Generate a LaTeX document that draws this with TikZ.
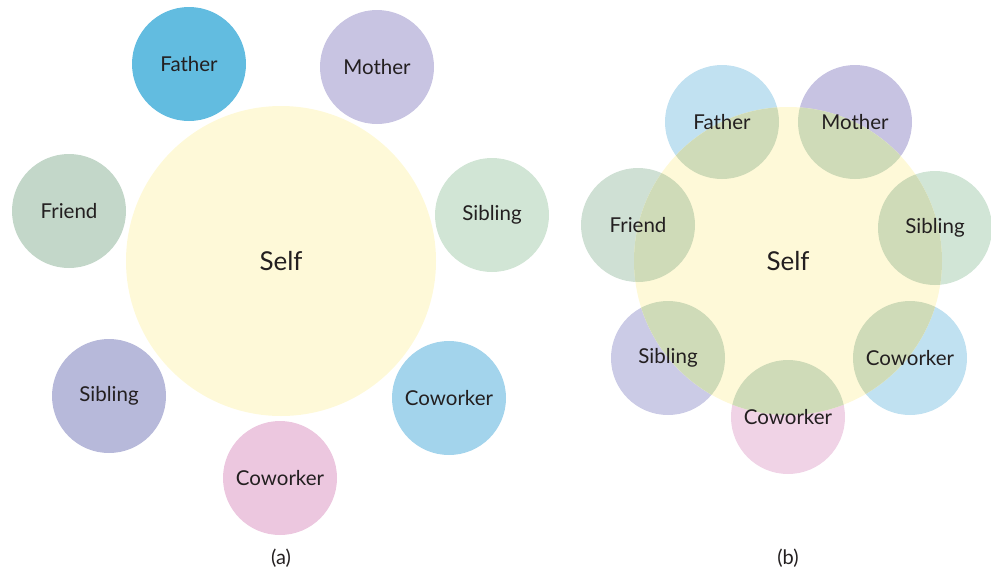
\documentclass[tikz,border=0pt]{standalone}
\usepackage{fontspec}
\setmainfont{Lato}
\begin{document}
\begin{tikzpicture}[x=1pt,y=-1pt,
  txt/.style={text=textc, font=\fontsize{20.5}{22}\selectfont, inner sep=0pt},
  selftxt/.style={text=textc, font=\fontsize{26}{28}\selectfont, inner sep=0pt},
  captxt/.style={text=textc, font=\fontsize{20}{22}\selectfont, inner sep=0pt},
  bub/.style={circle, minimum size=114pt, inner sep=0pt, text=textc, font=\fontsize{20.5}{22}\selectfont},
  bigbub/.style={circle, minimum size=310pt, inner sep=0pt, fill=selfc}]
\definecolor{textc}{HTML}{231F20}
\definecolor{selfc}{HTML}{FEF9D8}
\definecolor{fatherA}{HTML}{62BCE0}
\definecolor{motherA}{HTML}{C8C4E2}
\definecolor{friendA}{HTML}{C3D7C9}
\definecolor{sibRA}{HTML}{D1E5D5}
\definecolor{sibLA}{HTML}{B7B9DA}
\definecolor{coRA}{HTML}{A3D4EC}
\definecolor{coBA}{HTML}{ECC7DF}
\definecolor{fatherB}{HTML}{C1E1F1}
\definecolor{motherB}{HTML}{C7C3E2}
\definecolor{friendB}{HTML}{CFE0D4}
\definecolor{sibRB}{HTML}{D1E5D6}
\definecolor{sibLB}{HTML}{CBCBE6}
\definecolor{coRB}{HTML}{C0E1F1}
\definecolor{coBB}{HTML}{F0D3E6}
\definecolor{overlap}{HTML}{CFDBB8}
\useasboundingbox (0,0) rectangle (991,571);
% ---------- panel (a)
\node[bigbub] (selfA) at (281,261) {};
\node[selftxt] (selfAt) at (selfA.center) {Self};
\node[bub, fill=fatherA] (fatherA) at (189,64) {Father};
\node[bub, fill=motherA] (motherA) at (377,67) {Mother};
\node[bub, fill=friendA] (friendA) at (69,211) {Friend};
\node[bub, fill=sibRA] (sibRA) at (492,215) {Sibling};
\node[bub, fill=sibLA] (sibLA) at (109,396) {Sibling};
\node[bub, fill=coRA] (coRA) at (449,398) {Coworker};
\node[bub, fill=coBA] (coBA) at (280,478) {Coworker};
\node[captxt] (capA) at (281,558) {(a)};
% ---------- panel (b)
\node[bub, fill=fatherB] (fatherB) at (722,122) {};
\node[bub, fill=motherB] (motherB) at (855,122) {};
\node[bub, fill=friendB] (friendB) at (638,225) {};
\node[bub, fill=sibRB] (sibRB) at (935,228) {};
\node[bub, fill=sibLB] (sibLB) at (668,358) {};
\node[bub, fill=coRB] (coRB) at (910,358) {};
\node[bub, fill=coBB] (coBB) at (788,417) {};
\node[bigbub, minimum size=308pt] (selfB) at (788,261) {};
\begin{scope}
  \clip (788,261) circle (154);
  \foreach \n in {fatherB,motherB,friendB,sibRB,sibLB,coRB,coBB}
    \fill[overlap] (\n.center) circle (57);
\end{scope}
\node[selftxt] (selfBt) at (selfB.center) {Self};
\node[txt] (fatherBt) at (fatherB.center) {Father};
\node[txt] (motherBt) at (motherB.center) {Mother};
\node[txt] (friendBt) at (friendB.center) {Friend};
\node[txt] (sibRBt) at (sibRB.center) {Sibling};
\node[txt] (sibLBt) at (sibLB.center) {Sibling};
\node[txt] (coRBt) at (coRB.center) {Coworker};
\node[txt] (coBBt) at (coBB.center) {Coworker};
\node[captxt] (capB) at (788,558) {(b)};
\end{tikzpicture}
\end{document}
